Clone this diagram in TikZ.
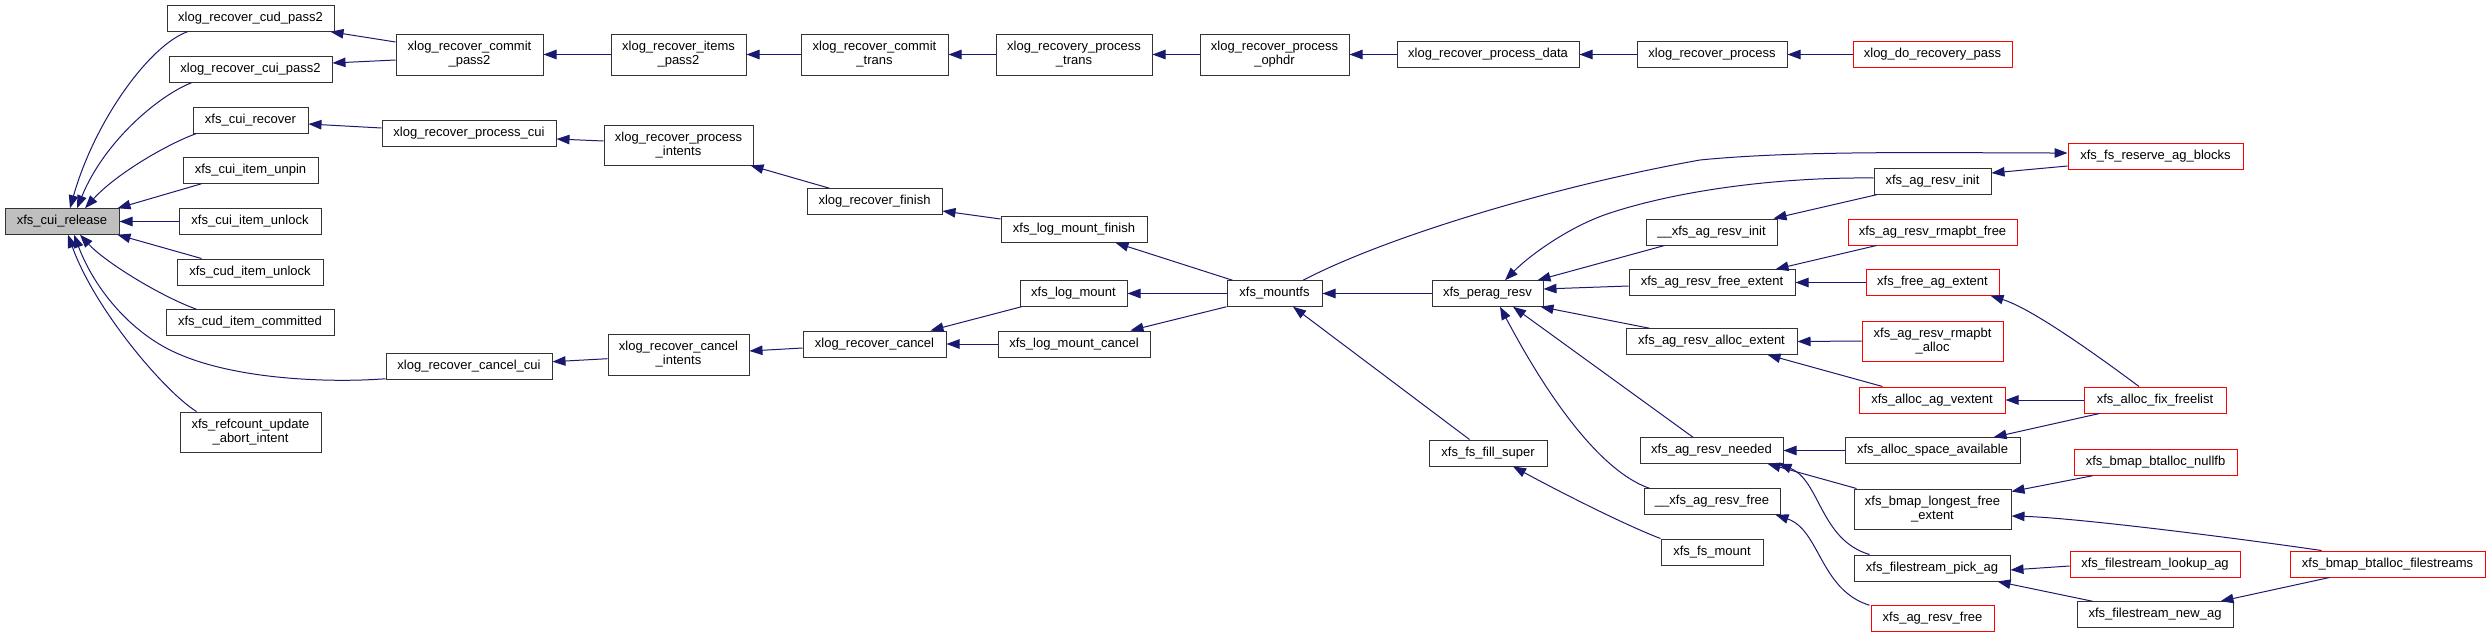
\documentclass[tikz,border=0pt]{standalone}
\usepackage{fontspec}
\setmainfont{Liberation Sans}
\usetikzlibrary{arrows.meta}
\definecolor{edgecol}{HTML}{191970}
\definecolor{rootfill}{HTML}{BFBFBF}
\definecolor{boxline}{HTML}{333333}
\tikzset{
  fn/.style={draw=boxline, line width=1pt, inner sep=0pt, font=\fontsize{13}{14}\selectfont, align=center, minimum height=25.5pt},
  fn2/.style={fn, minimum height=41pt},
  rd/.style={draw=red},
  edge/.style={draw=edgecol, line width=1pt, -{Triangle[length=13pt,width=9.5pt]}},
}
\begin{document}
\begin{tikzpicture}[x=1pt,y=-1pt]
\useasboundingbox (0,0) rectangle (2491,637);
% column 0
\node[fn, fill=rootfill, minimum width=114pt] (cuirel) at (62,221.5) {xfs\_cui\_release};
% column 1
\node[fn, minimum width=167pt] (cudp2) at (250.5,18.5) {xlog\_recover\_cud\_pass2};
\node[fn, minimum width=163pt] (cuip2) at (250.5,69.5) {xlog\_recover\_cui\_pass2};
\node[fn, minimum width=115pt, minimum height=26pt] (cuirec) at (250.5,120) {xfs\_cui\_recover};
\node[fn, minimum width=135pt] (unpin) at (250.5,170.5) {xfs\_cui\_item\_unpin};
\node[fn, minimum width=142pt] (cuiunlock) at (250,221.5) {xfs\_cui\_item\_unlock};
\node[fn, minimum width=146pt, minimum height=26pt] (cudunlock) at (250,272) {xfs\_cud\_item\_unlock};
\node[fn, minimum width=168pt] (committed) at (250,322.5) {xfs\_cud\_item\_committed};
\node[fn, minimum width=141pt, minimum height=40pt] (refcount) at (250.5,432) {xfs\_refcount\_update\\\_abort\_intent};
% column 2
\node[fn2, minimum width=147pt] (commitp2) at (469.5,54.5) {xlog\_recover\_commit\\\_pass2};
\node[fn, minimum width=174pt] (proccui) at (469,133.5) {xlog\_recover\_process\_cui};
\node[fn, minimum width=166pt] (cancelcui) at (469,366.5) {xlog\_recover\_cancel\_cui};
% column 3
\node[fn2, minimum width=135pt] (itemsp2) at (678.5,54.5) {xlog\_recover\_items\\\_pass2};
\node[fn, minimum width=149pt, minimum height=40pt] (procintents) at (678.5,145) {xlog\_recover\_process\\\_intents};
\node[fn2, minimum width=141pt] (cancelintents) at (678.5,354.5) {xlog\_recover\_cancel\\\_intents};
% column 4
\node[fn2, minimum width=147pt] (committrans) at (874.5,54.5) {xlog\_recover\_commit\\\_trans};
\node[fn, minimum width=135pt] (recfinish) at (874.5,201.5) {xlog\_recover\_finish};
\node[fn, minimum width=143pt, minimum height=26pt] (reccancel) at (874.5,344) {xlog\_recover\_cancel};
% column 5
\node[fn2, minimum width=156pt] (proctrans) at (1074,54.5) {xlog\_recovery\_process\\\_trans};
\node[fn, minimum width=146pt] (lmfinish) at (1074,229.5) {xfs\_log\_mount\_finish};
\node[fn, minimum width=107pt] (logmount) at (1073.5,293.5) {xfs\_log\_mount};
\node[fn, minimum width=152pt, minimum height=26pt] (lmcancel) at (1074,344) {xfs\_log\_mount\_cancel};
% column 6
\node[fn2, minimum width=149pt] (ophdr) at (1274.5,54.5) {xlog\_recover\_process\\\_ophdr};
\node[fn, minimum width=95pt] (mountfs) at (1274.5,293.5) {xfs\_mountfs};
% column 7
\node[fn, minimum width=182pt] (procdata) at (1488,54.5) {xlog\_recover\_process\_data};
\node[fn, minimum width=111pt] (perag) at (1487.5,293.5) {xfs\_perag\_resv};
\node[fn, minimum width=118pt, minimum height=26pt] (fillsuper) at (1488,453) {xfs\_fs\_fill\_super};
% column 8
\node[fn, minimum width=150pt] (recprocess) at (1712,54.5) {xlog\_recover\_process};
\node[fn, minimum width=131pt, minimum height=26pt] (uagresvinit) at (1711.5,232) {\_\_xfs\_ag\_resv\_init};
\node[fn, minimum width=166pt] (freeextent) at (1712,282.5) {xfs\_ag\_resv\_free\_extent};
\node[fn, minimum width=171pt] (allocextent) at (1711.5,341.5) {xfs\_ag\_resv\_alloc\_extent};
\node[fn, minimum width=143pt] (resvneeded) at (1711.5,450.5) {xfs\_ag\_resv\_needed};
\node[fn, minimum width=136pt] (uagresvfree) at (1712,501.5) {\_\_xfs\_ag\_resv\_free};
\node[fn, minimum width=102pt, minimum height=26pt] (fsmount) at (1712,552) {xfs\_fs\_mount};
% column 9
\node[fn, rd, minimum width=159pt] (dorecovery) at (1932.5,54.5) {xlog\_do\_recovery\_pass};
\node[fn, minimum width=117pt] (agresvinit) at (1932.5,181.5) {xfs\_ag\_resv\_init};
\node[fn, rd, minimum width=169pt, minimum height=26pt] (rmapbtfree) at (1932.5,232) {xfs\_ag\_resv\_rmapbt\_free};
\node[fn, rd, minimum width=133pt] (freeagextent) at (1932.5,282.5) {xfs\_free\_ag\_extent};
\node[fn, rd, minimum width=141pt, minimum height=40pt] (rmapbtalloc) at (1932.5,341) {xfs\_ag\_resv\_rmapbt\\\_alloc};
\node[fn, rd, minimum width=146pt, minimum height=26pt] (allocagvextent) at (1932,400) {xfs\_alloc\_ag\_vextent};
\node[fn, minimum width=175pt] (spaceavail) at (1932.5,450.5) {xfs\_alloc\_space\_available};
\node[fn, minimum width=157pt, minimum height=40pt] (longestfree) at (1932.5,509) {xfs\_bmap\_longest\_free\\\_extent};
\node[fn, minimum width=156pt, minimum height=26pt] (pickag) at (1932,568) {xfs\_filestream\_pick\_ag};
\node[fn, rd, minimum width=123pt] (agresvfree) at (1932.5,618.5) {xfs\_ag\_resv\_free};
% column 10
\node[fn, rd, minimum width=175pt, minimum height=26pt] (reserveag) at (2155.5,156) {xfs\_fs\_reserve\_ag\_blocks};
\node[fn, rd, minimum width=142pt, minimum height=26pt] (fixfreelist) at (2155,400) {xfs\_alloc\_fix\_freelist};
\node[fn, rd, minimum width=163pt] (nullfb) at (2155.5,462.5) {xfs\_bmap\_btalloc\_nullfb};
\node[fn, rd, minimum width=170pt, minimum height=26pt] (lookupag) at (2155,564) {xfs\_filestream\_lookup\_ag};
\node[fn, minimum width=156pt] (newag) at (2155,614.5) {xfs\_filestream\_new\_ag};
% column 11
\node[fn, rd, minimum width=195pt, minimum height=26pt] (btallocfs) at (2387.5,564) {xfs\_bmap\_btalloc\_filestreams};

% edges into xfs_cui_release
\draw[edge] ([xshift=21pt]cudp2.south west) .. controls (150,45) and (95,120) .. ([xshift=8pt]cuirel.north);
\draw[edge] ([xshift=23pt]cuip2.south west) .. controls (160,95) and (105,140) .. ([xshift=15pt]cuirel.north);
\draw[edge] ([xshift=4pt]cuirec.south west) .. controls (165,145) and (115,175) .. ([xshift=23pt]cuirel.north);
\draw[edge] ([xshift=19pt]unpin.south west) -- ([xshift=-2pt]cuirel.north east);
\draw[edge] (cuiunlock.west) -- (cuirel.east);
\draw[edge] ([xshift=25pt]cudunlock.north west) -- ([xshift=-2pt]cuirel.south east);
\draw[edge] ([xshift=31pt]committed.north west) .. controls (160,296) and (105,262) .. ([xshift=18pt]cuirel.south);
\draw[edge] ([yshift=1pt]cancelcui.south west) .. controls (330,383) and (230,380) .. (170,350) .. controls (130,330) and (95,290) .. ([xshift=12pt]cuirel.south);
\draw[edge] ([xshift=17pt]refcount.north west) .. controls (165,392) and (95,310) .. ([xshift=6pt]cuirel.south);
% column 2 -> 1
\draw[edge] ([yshift=12.5pt]commitp2.west) -- ([xshift=-4pt]cudp2.south east);
\draw[edge] ([yshift=-5.5pt]commitp2.west) -- ([yshift=6.5pt]cuip2.east);
\draw[edge] ([yshift=5.5pt]proccui.west) -- ([yshift=-4pt]cuirec.east);
\draw[edge] ([yshift=-4.2pt]cancelintents.west) -- ([yshift=4.8pt]cancelcui.east);
% top chain
\draw[edge] (itemsp2.west) -- (commitp2.east);
\draw[edge] (committrans.west) -- (itemsp2.east);
\draw[edge] (proctrans.west) -- (committrans.east);
\draw[edge] (ophdr.west) -- (proctrans.east);
\draw[edge] (procdata.west) -- (ophdr.east);
\draw[edge] (recprocess.west) -- (procdata.east);
\draw[edge] (dorecovery.west) -- (recprocess.east);
% intents / finish / cancel
\draw[edge] ([yshift=4pt]procintents.west) -- ([yshift=-5.5pt]proccui.east);
\draw[edge] ([xshift=23pt]recfinish.north west) -- ([xshift=-3pt]procintents.south east);
\draw[edge] ([yshift=10.5pt]lmfinish.west) -- ([yshift=-9.5pt]recfinish.east);
\draw[edge] ([yshift=-4pt]reccancel.west) -- ([yshift=3.5pt]cancelintents.east);
\draw[edge] ([xshift=2pt]logmount.south west) -- ([xshift=-16pt]reccancel.north east);
\draw[edge] (lmcancel.west) -- (reccancel.east);
% mountfs
\draw[edge] ([xshift=6pt]mountfs.north west) -- ([xshift=-32pt]lmfinish.south east);
\draw[edge] (mountfs.west) -- (logmount.east);
\draw[edge] (mountfs.south west) -- ([xshift=-20pt]lmcancel.north east);
\draw[edge] (perag.west) -- (mountfs.east);
\draw[edge] ([xshift=41pt]fillsuper.north west) -- ([xshift=18.5pt]mountfs.south);
\draw[edge] (fsmount.north west) .. controls (1625,525) and (1560,492) .. ([xshift=25pt]fillsuper.south);
\draw[edge] ([xshift=28.5pt]mountfs.north) .. controls (1390,235) and (1560,185) .. (1700,160) .. controls (1800,150) and (1950,153) .. ([yshift=3pt]reserveag.west);
% perag_resv callers
\draw[edge] ([yshift=-10pt]reserveag.west) -- ([yshift=8.5pt]agresvinit.east);
\draw[edge] ([yshift=3.5pt]agresvinit.west) .. controls (1780,177) and (1680,190) .. (1610,213) .. controls (1570,226) and (1530,255) .. ([xshift=17.5pt]perag.north);
\draw[edge] ([xshift=3pt]agresvinit.south west) -- ([xshift=-4pt]uagresvinit.north east);
\draw[edge] ([xshift=19pt]uagresvinit.south west) -- ([xshift=-6pt]perag.north east);
\draw[edge] ([yshift=-3.5pt]freeextent.west) -- ([yshift=4.5pt]perag.east);
\draw[edge] ([xshift=24pt]allocextent.north west) -- ([xshift=-3pt]perag.south east);
\draw[edge] ([xshift=-18.5pt]resvneeded.north) -- ([xshift=25.5pt]perag.south);
\draw[edge] ([xshift=6pt]uagresvfree.north west) .. controls (1610,475) and (1560,420) .. ([xshift=12.5pt]perag.south);
% column 9 -> 8
\draw[edge] ([xshift=29pt]rmapbtfree.south west) -- ([xshift=-20pt]freeextent.north east);
\draw[edge] (freeagextent.west) -- (freeextent.east);
\draw[edge] (rmapbtalloc.west) -- (allocextent.east);
\draw[edge] ([xshift=24pt]allocagvextent.north west) -- ([xshift=-30pt]allocextent.south east);
\draw[edge] (spaceavail.west) -- (resvneeded.east);
\draw[edge] ([xshift=3pt]longestfree.north west) -- ([xshift=-16pt]resvneeded.south east);
\draw[edge] ([xshift=16pt]pickag.north west) .. controls (1820,540) and (1820,480) .. ([xshift=-5pt]resvneeded.south east);
\draw[edge] ([xshift=-1pt]agresvfree.north west) .. controls (1820,590) and (1820,530) .. ([xshift=-5pt]uagresvfree.south east);
% column 10 -> 9
\draw[edge] ([xshift=-16pt]fixfreelist.north) .. controls (2090,350) and (2030,308) .. ([xshift=-9pt]freeagextent.south east);
\draw[edge] (fixfreelist.west) -- (allocagvextent.east);
\draw[edge] ([xshift=16pt]fixfreelist.south west) -- ([xshift=-27pt]spaceavail.north east);
\draw[edge] ([xshift=19pt]nullfb.south west) -- ([yshift=-3pt]longestfree.north east);
\draw[edge] ([xshift=32pt]btallocfs.north west) .. controls (2250,540) and (2080,518) .. ([yshift=-7pt]longestfree.east);
\draw[edge] ([yshift=-2pt]lookupag.west) -- ([yshift=-2pt]pickag.east);
\draw[edge] ([xshift=16pt]newag.north west) -- ([xshift=-13pt]pickag.south east);
\draw[edge] ([xshift=40pt]btallocfs.south west) -- ([xshift=-13pt]newag.north east);
\end{tikzpicture}
\end{document}
